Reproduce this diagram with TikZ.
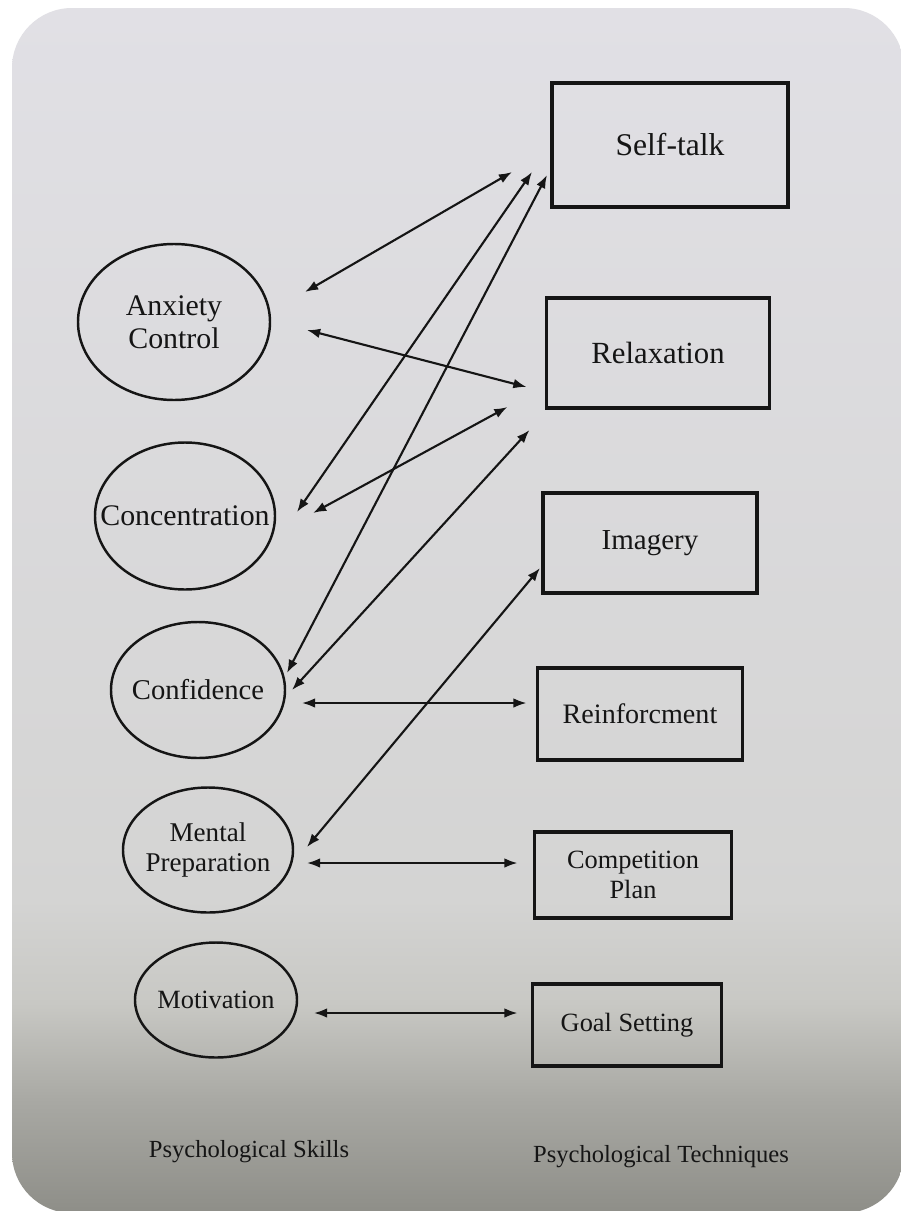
\documentclass[tikz,border=0pt]{standalone}
\usepackage{fontspec}
\setmainfont{Liberation Serif}
\usepackage{tikz}
\usetikzlibrary{arrows.meta,shapes.geometric,calc}

\definecolor{ink}{HTML}{151515}
\definecolor{screenA}{HTML}{8E8E88}
\definecolor{screenB}{HTML}{A8A8A3}
\definecolor{screenC}{HTML}{C8C8C4}
\definecolor{screenD}{HTML}{D4D4D3}
\definecolor{screenE}{HTML}{E1E0E5}
\pgfdeclareverticalshading{screen}{100bp}{color(0bp)=(screenA); color(25bp)=(screenA);
    color(29.6bp)=(screenB); color(33.7bp)=(screenC); color(38bp)=(screenD);
    color(75bp)=(screenE); color(100bp)=(screenE)}

\begin{document}
\begin{tikzpicture}[
    x=0.2mm,
    y=-0.2mm,
    >={Latex[length=7.5pt,width=5.5pt]},
    skill/.style={
        draw=ink,
        ellipse,
        line width=1.4pt,
        inner sep=0pt,
        outer sep=0pt
    },
    skilltext/.style={
        text=ink,
        align=center,
        inner sep=0pt
    },
    tech/.style={
        draw=ink,
        rectangle,
        line width=1.9pt,
        inner sep=0pt,
        outer sep=0pt,
        align=center,
        text=ink
    },
    link/.style={
        <->,
        draw=ink,
        line width=1.2pt
    },
    caption/.style={
        text=ink,
        font=\fontsize{14}{16}\selectfont
    }
]

% Page: photographed screen on a white card
\fill[white] (0,0) rectangle (900,1211);
\useasboundingbox (0,0) rectangle (900,1211);
\shade[shading=screen, rounded corners=12mm] (12,8) rectangle (904,1213);


% Left column --- psychological skills
\node[skill, minimum width=38.4mm, minimum height=31.2mm,
    label={[skilltext, name=anxtext, font=\fontsize{17}{19}\selectfont]center:{Anxiety\\Control}}]
    (anx) at (174,322) {};
\node[skill, minimum width=36mm, minimum height=29.4mm,
    label={[skilltext, name=conctext, font=\fontsize{17}{19}\selectfont]center:Concentration}]
    (conc) at (185,516) {};
\node[skill, minimum width=34.8mm, minimum height=27.2mm,
    label={[skilltext, name=conftext, font=\fontsize{16.3}{18}\selectfont]center:Confidence}]
    (conf) at (198,690) {};
\node[skill, minimum width=34mm, minimum height=25mm,
    label={[skilltext, name=menttext, font=\fontsize{15.4}{17}\selectfont]center:{Mental\\Preparation}}]
    (ment) at (208,850) {};
\node[skill, minimum width=32.4mm, minimum height=23mm,
    label={[skilltext, name=motivtext, font=\fontsize{15}{17}\selectfont]center:Motivation}]
    (motiv) at (216,1000) {};


% Right column --- psychological techniques
\node[tech, minimum width=47.2mm, minimum height=24.8mm, font=\fontsize{18}{20}\selectfont]
    (self) at (670,145) {Self-talk};
\node[tech, minimum width=44.6mm, minimum height=22mm, font=\fontsize{17.5}{19}\selectfont]
    (relax) at (658,353) {Relaxation};
\node[tech, minimum width=42.8mm, minimum height=20mm, font=\fontsize{16.5}{18}\selectfont]
    (imag) at (650,543) {Imagery};
\node[tech, minimum width=41mm, minimum height=18.4mm, font=\fontsize{16}{18}\selectfont]
    (reinf) at (640,714) {Reinforcment};
\node[tech, minimum width=39.4mm, minimum height=17.2mm, font=\fontsize{15}{17}\selectfont]
    (comp) at (633,875) {Competition\\Plan};
\node[tech, minimum width=37.8mm, minimum height=16.4mm, font=\fontsize{15}{17}\selectfont]
    (goal) at (627,1025) {Goal Setting};


% Links into Self-talk
\draw[link] ($(anx.east)+(35,-30)$) -- ($(self.west)+(-40,27)$);
\draw[link] ($(conc.east)+(22,-4)$) -- ($(self.west)+(-20,27)$);
\draw[link] ($(conf.east)+(2,-17)$) -- ($(self.west)+(-5,30)$);

% Links into Relaxation
\draw[link] ($(anx.east)+(37,8)$) -- ($(relax.west)+(-20,34)$);
\draw[link] ($(conc.east)+(38,-3)$) -- ($(relax.west)+(-39,54)$);
\draw[link] ($(conf.east)+(7,0)$) -- ($(relax.west)+(-17,77)$);

% Remaining links
\draw[link] ($(ment.east)+(14,-3)$) -- ($(imag.west)+(-3,25)$);
\draw[link] ($(conf.east)+(17,13)$) -- ($(reinf.west)+(-11,-11)$);
\draw[link] ($(ment.east)+(14,13)$) -- ($(comp.west)+(-17,-12)$);
\draw[link] ($(motiv.east)+(17,13)$) -- ($(goal.west)+(-15,-12)$);


% Column captions
\node[caption] (skills) at (249,1152) {Psychological Skills};
\node[caption] (techs) at (661,1157) {Psychological Techniques};

\end{tikzpicture}
\end{document}
